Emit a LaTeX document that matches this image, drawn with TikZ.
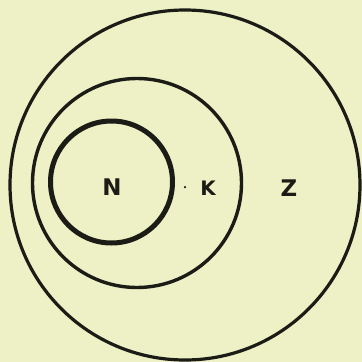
\documentclass[tikz,border=0pt]{standalone}
\usepackage{fontspec}
\setmainfont{DejaVu Sans}
\definecolor{paper}{RGB}{238,240,198}
\definecolor{ink}{RGB}{28,28,22}
\begin{document}
\begin{tikzpicture}[x=1bp,y=-1bp,
  ring/.style={circle,draw=ink,inner sep=0pt},
  lbl/.style={text=ink,font=\bfseries\fontsize{23}{23}\selectfont,inner sep=0pt}]
\fill[paper] (0,0) rectangle (362,362);
\useasboundingbox (0,0) rectangle (362,362);
\node[ring,line width=3.2bp,minimum size=350bp] (outer) at (185,185) {};
\node[ring,line width=3.4bp,minimum size=209bp] (middle) at (137,183) {};
\node[ring,line width=5bp,minimum size=122bp] (inner) at (111.5,182) {};
\node[lbl] (N) at (112,187) {N};
\node[lbl,font=\bfseries\fontsize{20}{20}\selectfont] (K) at (208,188) {K};
\node[ink,circle,fill,inner sep=0pt,minimum size=2.5bp] (dot) at (185,187) {};
\node[lbl] (Z) at (289,188) {Z};
\end{tikzpicture}
\end{document}
